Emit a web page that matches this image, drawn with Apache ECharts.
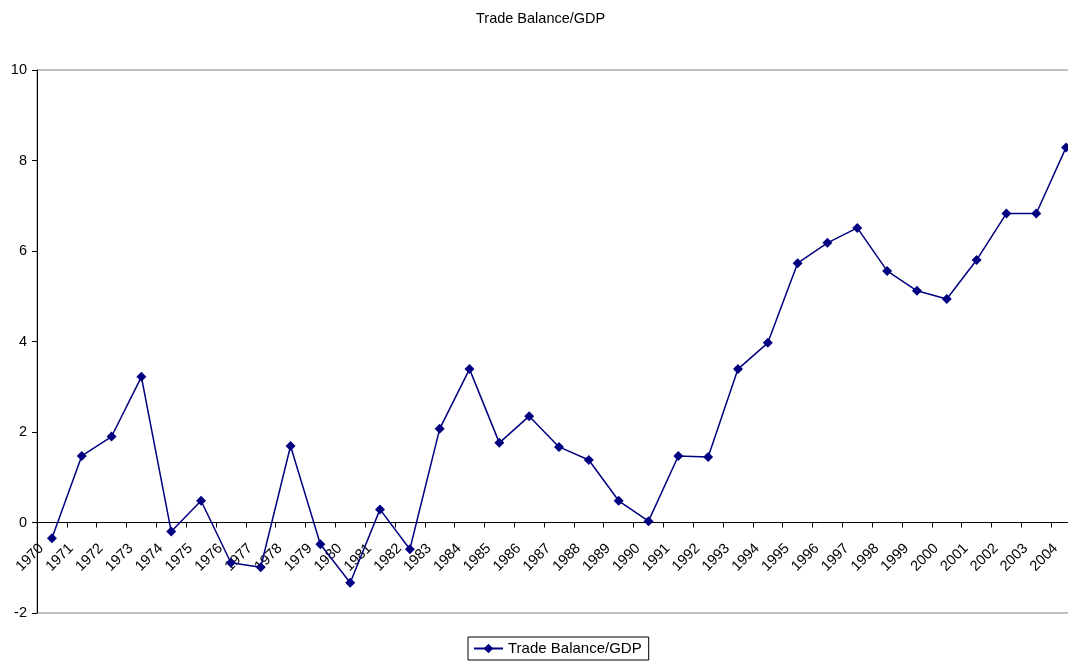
<!DOCTYPE html>
<html>
<head>
<meta charset="utf-8">
<script src="https://cdn.jsdelivr.net/npm/echarts@6/dist/echarts.min.js"></script>
<style>
html,body{margin:0;padding:0;background:#fff;overflow:hidden;width:1068px;height:663px;}
#c{width:1081px;height:663px;}
</style>
</head>
<body>
<div id="c"></div>
<script>
var years = ['1970','1971','1972','1973','1974','1975','1976','1977','1978','1979',
  '1980','1981','1982','1983','1984','1985','1986','1987','1988','1989',
  '1990','1991','1992','1993','1994','1995','1996','1997','1998','1999',
  '2000','2001','2002','2003','2004'];
var tradeBalance = [-0.35, 1.47, 1.90, 3.22, -0.20, 0.48, -0.89, -0.99, 1.69, -0.48,
  -1.33, 0.29, -0.59, 2.07, 3.39, 1.76, 2.35, 1.67, 1.38, 0.48,
  0.03, 1.47, 1.45, 3.39, 3.97, 5.73, 6.18, 6.51, 5.56, 5.12,
  4.94, 5.80, 6.83, 6.83, 8.29];
var yMin = -2, yMax = 10, yStep = 2;
var seriesName = 'Trade Balance/GDP';
var titleText = 'Trade Balance/GDP';

var font = "'Liberation Sans', Arial, sans-serif";
var gridTop = 70, gridHeight = 543;
var zeroOffset = -gridHeight * (0 - yMin) / (yMax - yMin);
var chart = echarts.init(document.getElementById('c'));
chart.setOption({
  animation: false,
  backgroundColor: '#ffffff',
  title: {
    text: titleText,
    left: 476,
    top: 11,
    padding: 0,
    textStyle: {fontFamily: font, fontSize: 14.5, fontWeight: 'normal', color: '#000'}
  },
  legend: {
    data: [seriesName],
    left: 468,
    top: 637,
    orient: 'horizontal',
    padding: [4, 7, 4, 5],
    itemWidth: 29,
    itemHeight: 12,
    itemGap: 5,
    borderColor: '#000',
    borderWidth: 1,
    borderRadius: 0,
    textStyle: {fontFamily: font, fontSize: 15, color: '#000'}
  },
  grid: {
    left: 37,
    top: gridTop,
    right: 0,
    height: gridHeight,
    show: true,
    borderColor: '#808080',
    borderWidth: 1,
    containLabel: false
  },
  xAxis: {
    type: 'category',
    data: years,
    boundaryGap: true,
    offset: zeroOffset,
    axisLine: {onZero: false, lineStyle: {color: '#000', width: 1}},
    axisTick: {show: true, interval: 0, length: 5, lineStyle: {color: '#000'}},
    axisLabel: {
      interval: 0,
      rotate: 45,
      margin: 13,
      padding: [0, 15, 0, 0],
      fontFamily: font,
      fontSize: 14.5,
      color: '#000'
    },
    splitLine: {show: false}
  },
  yAxis: {
    type: 'value',
    min: yMin,
    max: yMax,
    interval: yStep,
    axisLine: {show: true, onZero: false, lineStyle: {color: '#000', width: 1}},
    axisTick: {show: true, length: 5, lineStyle: {color: '#000'}},
    axisLabel: {margin: 10, fontFamily: font, fontSize: 14.5, color: '#000'},
    splitLine: {show: false}
  },
  series: [{
    name: seriesName,
    type: 'line',
    data: tradeBalance,
    symbol: 'diamond',
    symbolSize: 10,
    showAllSymbol: true,
    clip: false,
    lineStyle: {color: '#000080', width: 1.5},
    itemStyle: {color: '#000080'}
  }]
});
</script>
</body>
</html>
